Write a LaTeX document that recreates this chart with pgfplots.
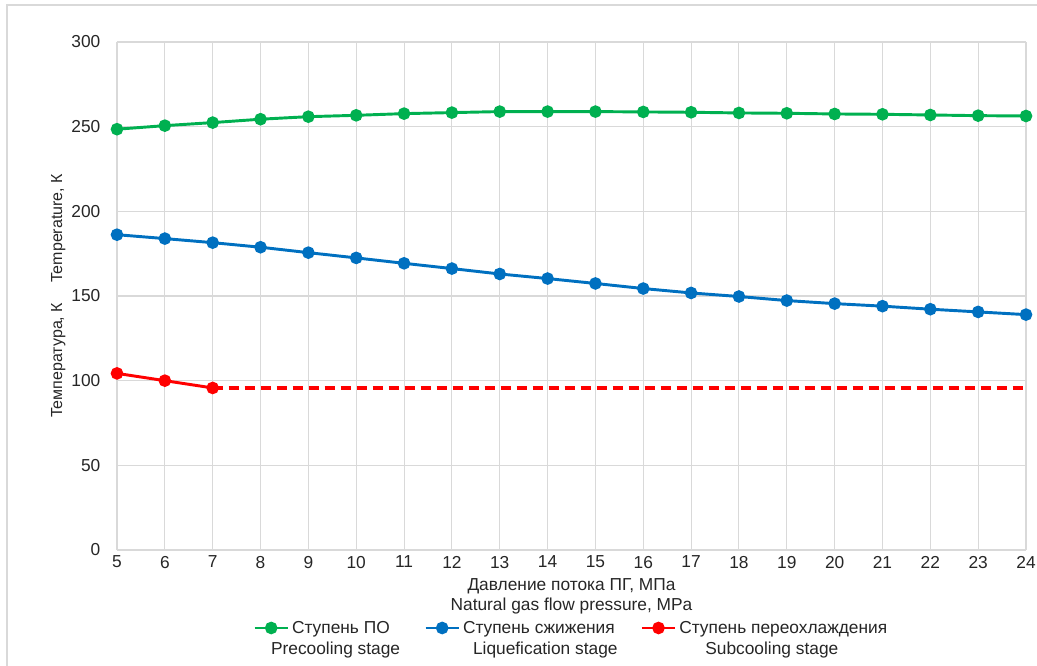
\documentclass[border=0pt]{standalone}
\usepackage{fontspec}
\setmainfont{Liberation Sans}
\usepackage{pgfplots}
\pgfplotsset{compat=1.18}
\definecolor{cgreen}{HTML}{00B050}
\definecolor{cblue}{HTML}{0070C0}
\definecolor{cred}{HTML}{FF0000}
\definecolor{cgrid}{HTML}{D9D9D9}
\definecolor{ctext}{HTML}{262626}
\newcommand\f{\fontsize{13}{15}\selectfont}
\begin{document}
\begin{tikzpicture}
\path[use as bounding box] (-87.75pt,-87pt) rectangle (690pt,412.5pt);
\draw[cgrid, line width=1.1pt] (-82.5pt,-87pt) -- (-82.5pt,408.75pt) -- (690pt,408.75pt);
\begin{axis}[
  at={(0,0)}, anchor=south west,
  scale only axis,
  width=681.75pt, height=381pt,
  xmin=5, xmax=24, ymin=0, ymax=300,
  xtick={5,...,24}, ytick={0,50,...,300},
  grid=major,
  major grid style={cgrid, line width=0.8pt},
  axis line style={draw=none},
  axis x line*=bottom, axis y line*=left,
  tick style={draw=none},
  /pgf/number format/assume math mode=true,
  tick label style={font=\f, text=ctext},
  xticklabel style={yshift=-1pt},
  yticklabel style={xshift=-9pt},
  xlabel={Давление потока ПГ, МПа\\Natural gas flow pressure, MPa},
  xlabel style={font=\f, text=ctext, align=center, at={(axis description cs:0.5,0)}, anchor=north, yshift=-21pt, inner sep=0pt},
  ylabel={Температура, К\hspace{1.3em}Temperature, К},
  ylabel style={font=\fontsize{12}{14}\selectfont, text=ctext, at={(axis description cs:0,0.5)}, anchor=center, yshift=44pt},
  legend columns=3,
  legend cell align=left,
  legend style={draw=none, font=\f, text=ctext, at={(axis description cs:0.5,0)}, anchor=north, yshift=-49pt,
    /tikz/every even column/.append style={column sep=0pt},
    /tikz/every odd column/.append style={column sep=0pt},
    row sep=1pt},
  legend image code/.code={\draw[mark repeat=2,mark phase=2] plot coordinates {(0cm,0cm) (0.44cm,0cm) (0.88cm,0cm)};},
  every axis plot/.append style={line width=2.2pt, mark=*, mark size=3.6pt},
]
\addplot[cgreen, mark options={fill=cgreen}] coordinates {
(5,248.5) (6,250.6) (7,252.4) (8,254.4) (9,255.9) (10,256.7) (11,257.7) (12,258.3)
(13,258.9) (14,258.9) (15,258.9) (16,258.7) (17,258.5) (18,258.1) (19,257.9) (20,257.5)
(21,257.3) (22,256.9) (23,256.5) (24,256.3)};
\addlegendentry{\makebox[97pt][l]{Ступень ПО}}
\addplot[cblue, mark options={fill=cblue}] coordinates {
(5,186.2) (6,183.9) (7,181.5) (8,178.8) (9,175.6) (10,172.5) (11,169.3) (12,166.2)
(13,163.0) (14,160.3) (15,157.4) (16,154.4) (17,151.8) (18,149.7) (19,147.3) (20,145.5)
(21,144.0) (22,142.2) (23,140.6) (24,139.0)};
\addlegendentry{\makebox[131pt][l]{Ступень сжижения}}
\addplot[cred, mark options={fill=cred}] coordinates {(5,104.3) (6,100.0) (7,95.7)};
\addlegendentry{Ступень переохлаждения}
\addplot[cred, mark=none, dash pattern=on 8pt off 4pt, line width=2.4pt, forget plot] coordinates {(7,95.7) (24,95.7)};
\addlegendimage{empty legend}
\addlegendentry{\hspace*{-15.75pt}Precooling stage}
\addlegendimage{empty legend}
\addlegendentry{\hspace*{7.5pt}Liquefication stage}
\addlegendimage{empty legend}
\addlegendentry{\hspace*{19.5pt}Subcooling stage}
\end{axis}
\end{tikzpicture}
\end{document}
